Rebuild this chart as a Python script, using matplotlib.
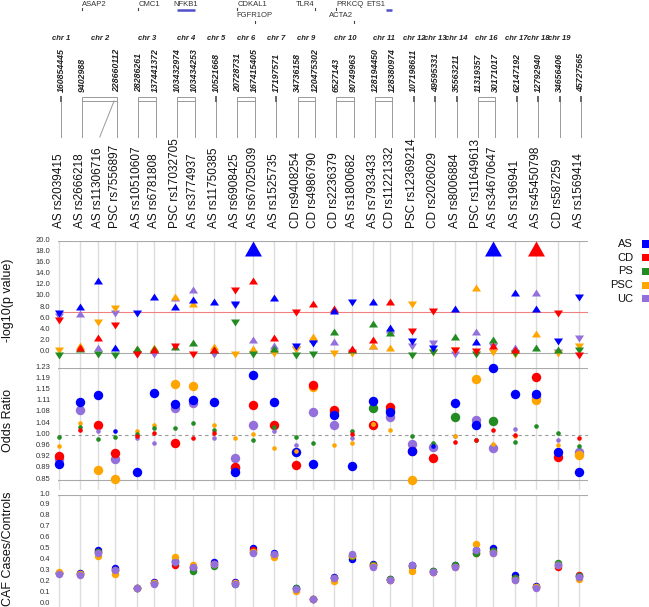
import numpy as np
import matplotlib.pyplot as plt
from matplotlib.path import Path
from matplotlib.patches import Rectangle
from matplotlib.transforms import ScaledTranslation

plt.rcParams["font.family"] = ["Liberation Sans", "DejaVu Sans"]

diseases = ["AS", "CD", "PS", "PSC", "UC"]
colors = ["#0000ff", "#ff0000", "#228b22", "#ffa500", "#9370db"]

snp_labels = ["AS rs2039415", "AS rs2666218", "AS rs11306716", "PSC rs7556897",
              "AS rs10510607", "AS rs6781808", "PSC rs17032705", "AS rs3774937",
              "AS rs11750385", "AS rs6908425", "AS rs67025039", "AS rs1525735",
              "CD rs9408254", "CD rs4986790", "CD rs2236379", "AS rs1800682",
              "AS rs7933433", "CD rs11221332", "PSC rs12369214", "CD rs2026029",
              "AS rs8006884", "PSC rs11649613", "AS rs34670647", "AS rs196941",
              "AS rs45450798", "CD rs587259", "AS rs1569414"]
snp_chr = [1, 2, 2, 2, 3, 3, 4, 4, 5, 6, 6, 7, 9, 9, 10, 10, 11, 11, 12, 13, 14,
           16, 16, 17, 18, 19, 22]
snp_pos = [160854445, 9402988, 228660112, 228660112, 28286261, 137441372,
           103432974, 103434253, 10521668, 20728731, 167415405, 17197571,
           34736158, 120475302, 6527143, 90749963, 128194450, 128380974,
           107198611, 49595331, 35563211, 11319357, 30171017, 62147192,
           12792940, 34656406, 45727565]

genes = ["ASAP2", "CMC1", "NFKB1", "CDKAL1", "FGFR1OP", "TLR4", "PRKCQ", "ACTA2", "ETS1"]
gene_snps = [[1], [4], [6, 7], [9], [10], [13], [14], [15], [17]]
gene_row = [0, 0, 0, 0, 1, 0, 0, 1, 0]

# -log10(p value); 20 = capped
logp_as = [7.6, 7.6, 12.4, 0.3, 7.7, 9.4, 7.6, 8.9, 8.5, 9.35, 20, 9.2, 1.7, 2.4,
           7.0, 9.7, 8.5, 4.0, 2.7, 1.35, 7.4, 1.4, 20, 10.2, 7.4, 2.6, 10.5]
logp_cd = [6.5, 0.3, 2.1, 5.6, 0.3, 0.0, 1.7, 0.4, 0.0, 11.7, 12.4, 2.1, 7.9, 8.15,
           7.3, 0.1, 1.7, 8.5, 4.5, 8.1, 1.1, 0.95, 0.65, 0.0, 20, 7.6, 0.2]
logp_ps = [0.24, 0.1, 0.4, 0.2, 0.1, 0.1, 0.5, 1.2, 0.0, 6.0, 0.4, 0.1, 0.2, 0.4,
           3.15, 0.0, 4.6, 3.0, 0.2, 0.8, 2.4, 0.4, 1.7, 0.6, 0.3, 0.0, 1.1]
logp_psc = [1.0, 0.65, 6.1, 8.6, 0.1, 0.3, 9.4, 8.15, 0.5, 0.4, 0.1, 0.5, 1.2, 2.4,
            0.6, 0.6, 0.8, 0.3, 9.2, 0.7, 1.1, 11.0, 0.8, 0.4, 2.8, 0.6, 1.8]
logp_uc = [7.2, 6.4, 0.3, 7.7, 0.4, 0.4, 9.3, 10.8, 0.4, 9.1, 1.7, 0.8, 1.3, 1.9,
           1.4, 0.8, 0.7, 3.5, 1.7, 2.4, 0.4, 3.15, 1.8, 0.3, 10.2, 0.7, 3.3]

or_as = [0.901, 1.115, 1.138, 1.016, 0.876, 1.143, 1.107, 1.121, 1.115, 0.874, 1.204,
         1.115, 0.944, 0.901, 1.069, 0.896, 1.117, 1.078, 0.947, 0.965, 1.109, 1.035,
         1.228, 1.140, 1.140, 0.944, 0.876]
or_cd = [0.930, 1.018, 1.035, 0.939, 0.997, 1.009, 0.973, 0.992, 1.009, 0.893, 1.104,
         1.035, 0.899, 1.170, 1.087, 1.004, 1.035, 1.096, 0.945, 0.922, 0.978, 0.984,
         1.018, 1.002, 1.197, 0.926, 0.990]
or_ps = [0.994, 1.030, 0.987, 0.995, 1.003, 1.026, 1.026, 1.041, 1.018, 0.888, 0.983,
         1.030, 0.993, 0.973, 1.081, 1.013, 1.094, 1.087, 0.997, 0.975, 1.064, 0.984,
         1.049, 0.978, 1.033, 1.008, 0.964]
or_psc = [0.964, 1.041, 0.882, 0.850, 1.016, 1.035, 1.175, 1.168, 1.035, 0.990, 1.006,
          0.958, 0.947, 1.163, 0.967, 0.973, 1.037, 1.018, 0.848, 0.970, 0.999, 1.192,
          0.971, 0.996, 1.121, 0.967, 0.933]
or_uc = [0.919, 1.087, 1.013, 0.919, 0.992, 0.973, 1.094, 1.109, 0.990, 0.922, 1.035,
         1.016, 0.967, 1.081, 1.035, 0.992, 1.040, 1.064, 0.971, 0.959, 0.996, 1.052,
         0.956, 1.021, 1.132, 0.983, 0.944]

caf_as = [0.29, 0.29, 0.50, 0.33, 0.155, 0.21, 0.40, 0.34, 0.39, 0.21, 0.52, 0.47, 0.15,
          0.05, 0.25, 0.42, 0.37, 0.23, 0.36, 0.31, 0.36, 0.50, 0.52, 0.27, 0.17, 0.36, 0.26]
caf_cd = [0.29, 0.28, 0.48, 0.32, 0.15, 0.20, 0.36, 0.33, 0.37, 0.20, 0.50, 0.45, 0.14,
          0.05, 0.24, 0.44, 0.36, 0.22, 0.35, 0.30, 0.35, 0.47, 0.49, 0.24, 0.16, 0.34, 0.27]
caf_ps = [0.29, 0.28, 0.48, 0.32, 0.15, 0.20, 0.39, 0.31, 0.35, 0.19, 0.48, 0.45, 0.15,
          0.05, 0.24, 0.44, 0.36, 0.23, 0.35, 0.31, 0.36, 0.47, 0.49, 0.24, 0.16, 0.38, 0.26]
caf_psc = [0.30, 0.28, 0.44, 0.28, 0.15, 0.20, 0.43, 0.36, 0.37, 0.20, 0.48, 0.43, 0.125,
           0.05, 0.215, 0.45, 0.35, 0.22, 0.31, 0.30, 0.34, 0.55, 0.47, 0.22, 0.16, 0.36, 0.23]
caf_uc = [0.28, 0.27, 0.47, 0.32, 0.15, 0.19, 0.39, 0.34, 0.37, 0.19, 0.47, 0.46, 0.14,
          0.05, 0.24, 0.46, 0.34, 0.22, 0.36, 0.30, 0.34, 0.50, 0.47, 0.22, 0.15, 0.36, 0.25]

gw_line = 7.3

logp = [logp_as, logp_cd, logp_ps, logp_psc, logp_uc]
odds = [or_as, or_cd, or_ps, or_psc, or_uc]
caf = [caf_as, caf_cd, caf_ps, caf_psc, caf_uc]

# column spacing: a wider step between chromosomes than inside one
x = [0.0]
for a, b in zip(snp_chr[:-1], snp_chr[1:]):
    x.append(x[-1] + (1.0 if a != b else 0.81))
x = np.array(x)
xl = (x[0] - 0.05, x[-1] + 0.42)

W_PX, H_PX = 649, 607
def fy(px):
    return 1 - px / H_PX

L, W = 58 / W_PX, 530 / W_PX
fig = plt.figure(figsize=(6.49, 6.07), dpi=100)
ax_top = fig.add_axes([L, fy(241), W, 241 / H_PX])
ax_p = fig.add_axes([L, fy(368), W, 127 / H_PX])
ax_or = fig.add_axes([L, fy(490), W, 122 / H_PX])
ax_caf = fig.add_axes([L, 0, W, 112 / H_PX])

gray = "#999999"
grid = "#dddddd"

# ---- header: genes, chromosomes, positions, SNP names
ax_top.set_xlim(xl)
ax_top.set_ylim(241, 0)
ax_top.axis("off")
off = 0.09

groups = {}
for i, key in enumerate(zip(snp_chr, snp_pos)):
    groups.setdefault(key, []).append(i)

chrom_x = {}
for (c, p), idx in groups.items():
    xm = x[max(idx)] + off
    chrom_x.setdefault(c, []).append(xm)
    ax_top.text(xm, 92, str(p), rotation=90, ha="center", va="bottom", fontsize=6.3,
                fontweight="bold", fontstyle="italic", color="#222222")
    for i in idx:
        if i != max(idx):
            ax_top.plot([xm - 0.14, x[i] + off], [101, 137], color=gray, lw=0.7)

for c, xs in chrom_x.items():
    if c != snp_chr[-1]:
        ax_top.text(np.mean(xs), 38, f"chr {c}", ha="center", va="center", fontsize=5.5,
                    fontweight="bold", fontstyle="italic", color="#222222")
    if len(xs) == 1:
        ax_top.plot([xs[0], xs[0]], [97, 137], color=gray, lw=0.7)
        ax_top.plot([xs[0], xs[0]], [97, 100.5], color="#666666", lw=1.4)
    else:
        ax_top.add_patch(Rectangle((xs[0], 97), xs[-1] - xs[0], 4, fill=False,
                                   ec=gray, lw=0.7))
        for xv in xs:
            ax_top.plot([xv, xv], [101, 137], color=gray, lw=0.7)

gene_align = ["left", "left", "center", "left", "center", "right", "left", "right", "right"]
gene_bar = [False, False, True, False, False, False, False, False, True]
for g, cols, row, align, bar in zip(genes, gene_snps, gene_row, gene_align, gene_bar):
    gx = [x[c] + off for c in cols]
    ty = 5 if row == 0 else 15.5
    if bar:
        x0, x1 = (gx[0] - 0.28, gx[0]) if len(gx) == 1 else (min(gx), max(gx))
        ax_top.plot([x0, x1], [9.5, 9.5], color="#5050c8", lw=1.8, solid_capstyle="butt")
        tx = (x0 + x1) / 2 if align == "center" else x0 - 0.06
    else:
        my = 9 if row == 0 else 21.5
        ax_top.plot([gx[0], gx[0]], [my - 1, my + 1], color="#444444", lw=0.8)
        tx = gx[0] - 0.04 if align == "right" else gx[0]
    ax_top.text(tx, ty, g, ha=align, va="center", fontsize=5.5, color="#333333")

for xi, lab in zip(x, snp_labels):
    ax_top.text(xi, 228, lab, rotation=90, ha="center", va="bottom", fontsize=8.5,
                color="#111111")

# ---- panels
lift = ScaledTranslation(0, 0.02, fig.dpi_scale_trans)  # tick labels sit ~2px above their line
for ax in (ax_p, ax_or, ax_caf):
    ax.set_xlim(xl)
    for s in ax.spines.values():
        s.set_visible(False)
    ax.set_xticks([])
    ax.tick_params(axis="y", length=0, pad=5.5, labelsize=5.5, labelcolor="#333333")
    for xv in x:
        ax.axvline(xv, color=grid, lw=1.0, zorder=0)

up = Path([(-1.3, 0), (1.3, 0), (0, 2), (-1.3, 0)], closed=True)
down = Path([(-1.3, 0), (1.3, 0), (0, -2), (-1.3, 0)], closed=True)
capped = Path([(-1.13, -2), (1.13, -2), (0, 0), (-1.13, -2)], closed=True)

ax_p.set_ylim(-2.68, 20)
p_ticks = np.arange(0, 21, 2)
ax_p.set_yticks(p_ticks)
ax_p.set_yticklabels([f"{t:.1f}" for t in p_ticks])
ax_p.axhline(20, color="#aaaaaa", lw=0.8, zorder=1)
ax_p.axhline(0, color="#aaaaaa", lw=0.8, zorder=1)
ax_p.axhline(gw_line, color="#f08080", lw=0.8, zorder=1)

order = [4, 3, 2, 1, 0]
for k in order:
    lp = np.array(logp[k])
    o = np.array(odds[k])
    sel_up = (o >= 1) & (lp < 20)
    sel_dn = (o < 1) & (lp < 20)
    sel_cap = lp >= 20
    ax_p.scatter(x[sel_up], lp[sel_up], marker=up, s=10.0 ** 2, c=colors[k],
                 linewidths=0, zorder=3, clip_on=False)
    ax_p.scatter(x[sel_dn], lp[sel_dn], marker=down, s=10.0 ** 2, c=colors[k],
                 linewidths=0, zorder=3, clip_on=False)
    ax_p.scatter(x[sel_cap], np.full(sel_cap.sum(), 20.0), marker=capped, s=21.6 ** 2,
                 c=colors[k], linewidths=0, zorder=4, clip_on=False)

ax_or.set_ylim(0.814, 1.229)
or_ticks = np.linspace(0.848, 1.228, 11)
ax_or.set_yticks(or_ticks)
ax_or.set_yticklabels([f"{t:.2f}" for t in or_ticks])
ax_or.axhline(1.228, color="#aaaaaa", lw=0.8, zorder=1)
ax_or.axhline(0.848, color="#aaaaaa", lw=0.8, zorder=1)
ax_or.axhline(1.0, color="#999999", lw=0.8, ls=(0, (3, 3)), zorder=1)

# significant associations get the big circles, drawn below the small ones
for big in (True, False):
    for k in order:
        lp = np.array(logp[k])
        sel = (lp >= 1.4) if big else (lp < 1.4)
        ax_or.scatter(x[sel], np.array(odds[k])[sel], s=(6.8 if big else 3.3) ** 2,
                      c=colors[k], linewidths=0, zorder=3, clip_on=False)

ax_caf.set_ylim(-0.022, 1.0)
caf_ticks = np.arange(0, 1.01, 0.1)
ax_caf.set_yticks(caf_ticks)
ax_caf.set_yticklabels([f"{t:.1f}" for t in caf_ticks])
ax_caf.axhline(1.0, color="#aaaaaa", lw=0.8, zorder=1)
for k in range(5):
    ax_caf.scatter(x, caf[k], s=5.4 ** 2, c=colors[k], linewidths=0, zorder=3,
                   clip_on=False)

for ax in (ax_p, ax_or, ax_caf):
    for lab in ax.get_yticklabels():
        lab.set_transform(lab.get_transform() + lift)

# ---- axis titles and legend
for txt, yc in [("-log10(p value)", 300), ("Odds Ratio", 421), ("CAF Cases/Controls", 549)]:
    fig.text(8 / W_PX, fy(yc), txt, rotation=90, ha="center", va="center", fontsize=9,
             color="#111111")

for k, (d, col) in enumerate(zip(diseases, colors)):
    yc = 244 + 13.7 * k
    fig.text(633 / W_PX, fy(yc), d, ha="right", va="center", fontsize=8, color="#111111")
    fig.add_artist(Rectangle((642 / W_PX, fy(yc + 3.5)), 7 / W_PX, 7 / H_PX,
                             transform=fig.transFigure, color=col, lw=0))

fig.savefig("out.png", dpi=100)
